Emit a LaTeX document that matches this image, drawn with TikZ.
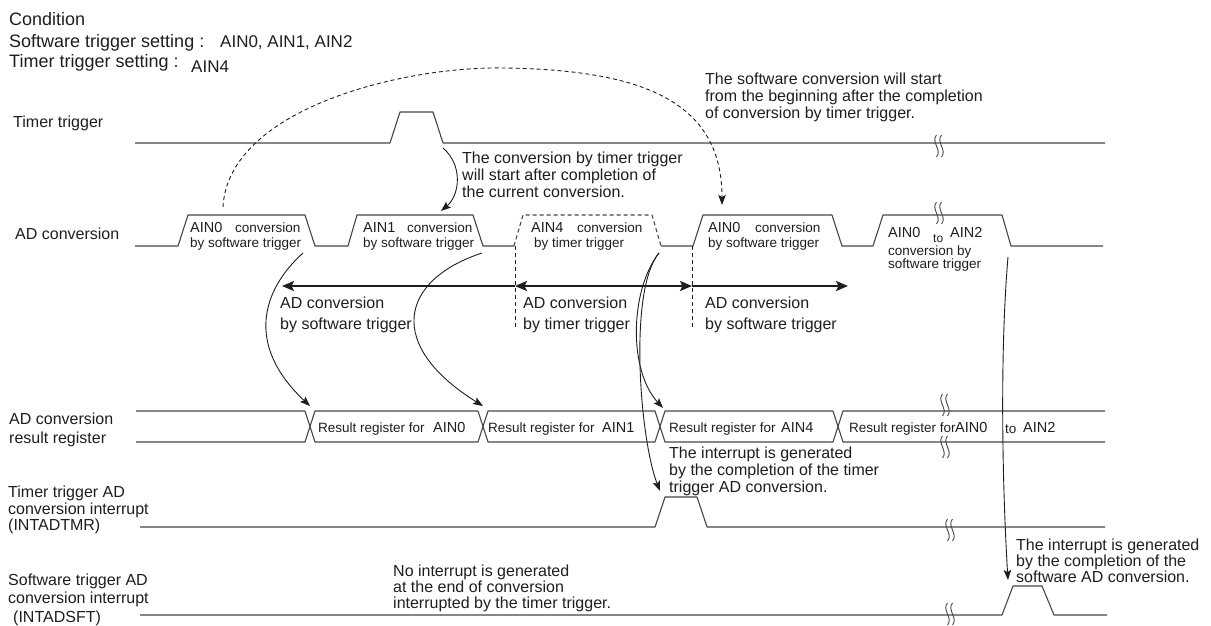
\documentclass[tikz,border=0pt]{standalone}
\usepackage{fontspec}
\setmainfont{Liberation Sans}
\usetikzlibrary{arrows.meta,calc}

\definecolor{ink}{RGB}{30,30,30}
\definecolor{wire}{RGB}{70,70,70}

% marque de coupure (double trait ondulé)
\newcommand{\brkmark}[2]{%
  \foreach \dx in {-2.5,2.5}
    \draw[wire, line width=0.9pt] ({#1+\dx},{#2-11}) .. controls ({#1+\dx-6},{#2-4}) and ({#1+\dx+6},{#2+4}) .. ({#1+\dx},{#2+11});
}

\begin{document}
\begin{tikzpicture}[x=1pt, y=-1pt, >={Stealth[length=10pt,width=7.5pt,inset=2pt]},
    wave/.style={wire, line width=1.1pt, line join=round},
    hdr/.style={ink, anchor=base west, inner sep=0pt, font=\fontsize{18}{20}\selectfont},
    hdrv/.style={ink, anchor=base west, inner sep=0pt, font=\fontsize{17}{19}\selectfont},
    lbl/.style={ink, anchor=base west, inner sep=0pt, font=\fontsize{16}{18}\selectfont},
    note/.style={ink, anchor=north west, inner sep=0pt, align=left, font=\fontsize{16}{17}\selectfont},
    ain/.style={ink, anchor=base west, inner sep=0pt, font=\fontsize{14.5}{16}\selectfont},
    small/.style={ink, anchor=base west, inner sep=0pt, font=\fontsize{13.5}{15}\selectfont},
    flow/.style={ink, line width=0.9pt, ->},
    span/.style={ink, line width=2.2pt, >={Stealth[length=12pt,width=10pt,inset=2.5pt]}},
    dashln/.style={dash pattern=on 4pt off 3pt}]

    \useasboundingbox (0,0) rectangle (1211,626);

    % =========================================================================
    % CONDITIONS
    % =========================================================================
    \node[hdr] (cond) at (9,26) {Condition};
    \node[hdr] (swset) at (9,48) {Software trigger setting :};
    \node[hdrv] (swain) at (220,48) {AIN0, AIN1, AIN2};
    \node[hdr] (tmset) at (9,68) {Timer trigger setting :};
    \node[hdrv] (tmain) at (191,73) {AIN4};

    % =========================================================================
    % NOMS DES SIGNAUX
    % =========================================================================
    \node[lbl] (sigtmr) at (13,127) {Timer trigger};
    \node[lbl] (sigad) at (15,239) {AD conversion};
    \node[lbl] (sigreg1) at (9,424) {AD conversion};
    \node[lbl] (sigreg2) at (9,443) {result register};
    \node[lbl] (sigti1) at (8,497) {Timer trigger AD};
    \node[lbl] (sigti2) at (8,514) {conversion interrupt};
    \node[lbl] (sigti3) at (8,530) {(INTADTMR)};
    \node[lbl] (sigsi1) at (8,585) {Software trigger AD};
    \node[lbl] (sigsi2) at (8,603) {conversion interrupt};
    \node[lbl] (sigsi3) at (13,622) {(INTADSFT)};

    % =========================================================================
    % CHRONOGRAMMES
    % =========================================================================

    % Timer trigger
    \draw[wave] (135,143) -- (390,143) -- (400,112) -- (433,112) -- (443,143) -- (1105,143);
    \brkmark{939}{146}

    % AD conversion
    \draw[wave] (135,246) -- (178,246) -- (188,215) -- (305,215) -- (315,246) -- (348,246)
        -- (357,215) -- (473,215) -- (483,246) -- (514,246);
    \draw[wave, dashln] (514,246) -- (523,215) -- (652,215) -- (661,246);
    \draw[wave] (661,246) -- (693,246) -- (703,215) -- (832,215) -- (842,246) -- (873,246)
        -- (883,215) -- (1002,215) -- (1011,246) -- (1103,246);
    \brkmark{939}{213}

    % Limites des phases
    \draw[ink, line width=0.8pt, dashln] (515,246) -- (515,328);
    \draw[ink, line width=0.8pt, dashln] (692,246) -- (692,328);

    % Result register
    \draw[wave] (136,411) -- (305,411) -- (315,442) -- (478,442) -- (488,411) -- (655,411)
        -- (665,442) -- (833,442) -- (843,411) -- (1105,411);
    \draw[wave] (136,442) -- (305,442) -- (315,411) -- (478,411) -- (488,442) -- (655,442)
        -- (665,411) -- (833,411) -- (843,442) -- (1105,442);
    \brkmark{945}{405}
    \brkmark{945}{447}

    % INTADTMR
    \draw[wave] (140,527) -- (655,527) -- (665,497) -- (697,497) -- (707,527) -- (1105,527);
    \brkmark{950}{530}

    % INTADSFT
    \draw[wave] (140,615) -- (1002,615) -- (1013,586) -- (1042,586) -- (1054,615) -- (1107,615);
    \brkmark{950}{614}

    % =========================================================================
    % TEXTES DANS LES CRENEAUX
    % =========================================================================
    \node[ain] (c0a) at (190,232) {AIN0};
    \node[small] (c0b) at (235,232) {conversion};
    \node[small] (c0c) at (190,247) {by software trigger};

    \node[ain] (c1a) at (363,232) {AIN1};
    \node[small] (c1b) at (407,232) {conversion};
    \node[small] (c1c) at (363,247) {by software trigger};

    \node[ain] (c4a) at (531,232) {AIN4};
    \node[small] (c4b) at (577,232) {conversion};
    \node[small] (c4c) at (534,247) {by timer trigger};

    \node[ain] (c5a) at (708,232) {AIN0};
    \node[small] (c5b) at (755,232) {conversion};
    \node[small] (c5c) at (708,247) {by software trigger};

    \node[ain] (c6a) at (888,237) {AIN0};
    \node[small, font=\fontsize{12}{14}\selectfont] (c6b) at (933,242) {to};
    \node[ain] (c6c) at (950,237) {AIN2};
    \node[small] (c6d) at (888,255) {conversion by};
    \node[small] (c6e) at (888,268) {software trigger};

    % Registre de résultat
    \node[small] (r0a) at (318,432) {Result register for};
    \node[ain] (r0b) at (433,432) {AIN0};
    \node[small] (r1a) at (488,432) {Result register for};
    \node[ain] (r1b) at (602,432) {AIN1};
    \node[small] (r4a) at (669,432) {Result register for};
    \node[ain] (r4b) at (781,432) {AIN4};
    \node[small] (r5a) at (849,432) {Result register for};
    \node[ain] (r5b) at (955,432) {AIN0};
    \node[small] (r5c) at (1005,433) {to};
    \node[ain] (r5d) at (1023,432) {AIN2};

    % =========================================================================
    % PHASES DE CONVERSION
    % =========================================================================
    \coordinate (spanL) at (282,286);
    \coordinate (spanT) at (515,286);
    \coordinate (spanS) at (692,286);
    \coordinate (spanR) at (848,286);
    \draw[span, <-] (spanL) -- (spanT);
    \draw[span, <->] (spanT) -- (spanS);
    \draw[span, ->] (spanS) -- (spanR);

    \node[lbl] (ph1a) at (280,308) {AD conversion};
    \node[lbl] (ph1b) at (280,329) {by software trigger};
    \node[lbl] (ph2a) at (523,308) {AD conversion};
    \node[lbl] (ph2b) at (523,329) {by timer trigger};
    \node[lbl] (ph3a) at (705,308) {AD conversion};
    \node[lbl] (ph3b) at (705,329) {by software trigger};

    % =========================================================================
    % FLECHES ET ANNOTATIONS
    % =========================================================================
    \coordinate (tmrFall) at (443,148);
    \coordinate (ain1Top) at (441,211);
    \coordinate (ain0Top) at (223,207);
    \coordinate (restart) at (722,205);
    \coordinate (end0) at (303,253);
    \coordinate (end1) at (482,253);
    \coordinate (end4) at (659,253);
    \coordinate (endSw) at (1008,257);
    \coordinate (reg0) at (310,406);
    \coordinate (reg1) at (483,406);
    \coordinate (reg4) at (663,408);
    \coordinate (intTmr) at (660,491);
    \coordinate (intSw) at (1008,580);

    \draw[flow] (tmrFall) .. controls (463,165) and (460,195) .. (ain1Top);
    \draw[flow, dashln] (ain0Top) .. controls (228,110) and (400,66) .. (505,68)
        .. controls (640,70) and (722,100) .. (restart);

    \draw[flow] (end0) .. controls (262,290) and (245,345) .. (reg0);
    \draw[flow] (end1) .. controls (400,280) and (385,345) .. (reg1);
    \draw[flow] (end4) .. controls (630,290) and (628,370) .. (reg4);
    \draw[flow] (end4) .. controls (628,290) and (640,440) .. (intTmr);
    \draw[flow] (endSw) .. controls (1000,350) and (1002,480) .. (intSw);

    \node[note] (tmrnote) at (462,152) {The conversion by timer trigger\\will start after completion of\\the current conversion.};
    \node[note] (swnote) at (705,73) {The software conversion will start\\from the beginning after the completion\\of conversion by timer trigger.};
    \node[note] (tintnote) at (669,447) {The interrupt is generated\\by the completion of the timer\\trigger AD conversion.};
    \node[note, font=\fontsize{16}{14.5}\selectfont] (sintnote) at (1016,539) {The interrupt is generated\\by the completion of the\\software AD conversion.};
    \node[note, font=\fontsize{16}{16}\selectfont] (nointnote) at (393,565) {No interrupt is generated\\at the end of conversion\\interrupted by the timer trigger.};

\end{tikzpicture}
\end{document}
